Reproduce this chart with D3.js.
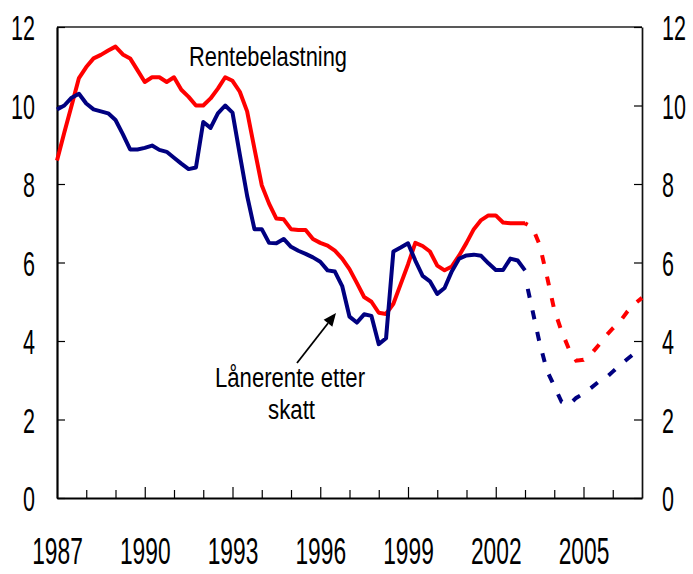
<!DOCTYPE html>
<html>
<head>
<meta charset="utf-8">
<script src="https://cdn.jsdelivr.net/npm/d3@7"></script>
<style>
  body { margin: 0; background: #fff; }
  svg { display: block; }
  text { font-family: "Liberation Sans", Arial, sans-serif; fill: #000; }
</style>
</head>
<body>
<svg id="chart" width="693" height="574"></svg>
<script>
// quarterly data, first point 1987 Q1
const startYear = 1987;

// Rentebelastning (solid, to 2003 Q1)
const renteActual = [
  8.6, 9.31, 10.0, 10.7, 10.98, 11.2, 11.29, 11.4, 11.5, 11.3, 11.2, 10.9,
  10.6, 10.72, 10.72, 10.6, 10.72, 10.4, 10.22, 10.0, 10.0, 10.18, 10.43, 10.72,
  10.63, 10.35, 9.85, 8.9, 7.97, 7.5, 7.12, 7.1, 6.85, 6.83, 6.83, 6.6,
  6.5, 6.43, 6.3, 6.1, 5.83, 5.48, 5.12, 5.0, 4.72, 4.69, 4.95, 5.45,
  5.95, 6.5, 6.42, 6.28, 5.92, 5.8, 5.9, 6.18, 6.5, 6.85, 7.08, 7.2,
  7.2, 7.02, 7.0, 7.0, 7.0
];
// Lånerente etter skatt (solid, to 2003 Q1)
const laanActual = [
  9.9, 10.0, 10.2, 10.3, 10.05, 9.9, 9.85, 9.8, 9.63, 9.27, 8.88, 8.88,
  8.92, 8.98, 8.87, 8.82, 8.67, 8.52, 8.38, 8.42, 9.58, 9.43, 9.8, 10.0,
  9.82, 8.75, 7.7, 6.85, 6.85, 6.5, 6.49, 6.6, 6.4, 6.3, 6.22, 6.13,
  6.02, 5.8, 5.77, 5.4, 4.62, 4.47, 4.68, 4.64, 3.92, 4.07, 6.28, 6.38,
  6.49, 6.05, 5.66, 5.52, 5.2, 5.35, 5.78, 6.1, 6.18, 6.2, 6.17, 5.98,
  5.81, 5.81, 6.1, 6.05, 5.8
];
// projections 2003 Q1 - 2007 Q1 (dashed)
const renteForecast = [
  7.0, 6.9, 6.45, 5.65, 4.8, 4.25, 3.8, 3.5, 3.52, 3.66, 3.88, 4.12,
  4.32, 4.5, 4.75, 4.95, 5.1
];
const laanForecast = [
  5.65, 4.8, 3.95, 3.25, 2.85, 2.45, 2.37, 2.55, 2.66, 2.8, 2.95, 3.05,
  3.22, 3.39, 3.54, 3.69, 3.82
];
const forecastStart = 64; // quarter index of 2003 Q1

const yTicks = [0, 2, 4, 6, 8, 10, 12];
const yearTicks = d3.range(1988, 2007);
const yearLabels = [1987, 1990, 1993, 1996, 1999, 2002, 2005];

const plotLeft = 57, plotRight = 642, plotTop = 27, plotBottom = 498;
const squeeze = 0.615; // axis digits are drawn condensed

const svg = d3.select("#chart");

const x = d3.scaleLinear().domain([1987, 2007]).range([plotLeft, plotRight]);
const y = d3.scaleLinear().domain([0, 12]).range([plotBottom, plotTop]);

const RED = "#ff0000";
const BLUE = "#000080";

// frame top
svg.append("line")
    .attr("x1", plotLeft).attr("x2", plotRight)
    .attr("y1", plotTop).attr("y2", plotTop)
    .attr("stroke", "#222").attr("stroke-width", 1.6);

function styleYLabels(g, pad) {
    g.selectAll("text")
        .attr("font-size", 35)
        .attr("font-family", "Liberation Sans, Arial, sans-serif")
        .attr("dy", "0.36em")
        .attr("x", pad / squeeze)
        .attr("transform", `scale(${squeeze},1)`);
}

// left axis
const gl = svg.append("g")
    .attr("transform", `translate(${plotLeft},0)`)
    .call(d3.axisLeft(y).tickValues(yTicks).tickSize(-8).tickSizeOuter(0).tickPadding(22));
gl.select(".domain").attr("stroke", "#000").attr("stroke-width", 2.2);
gl.selectAll(".tick line").attr("stroke", "#000").attr("stroke-width", 1.2);
styleYLabels(gl, -22);

// right axis
const gr = svg.append("g")
    .attr("transform", `translate(${plotRight},0)`)
    .call(d3.axisRight(y).tickValues(yTicks).tickSize(-8).tickSizeOuter(0).tickPadding(20));
gr.select(".domain").attr("stroke", "#111").attr("stroke-width", 1.7);
gr.selectAll(".tick line").attr("stroke", "#000").attr("stroke-width", 1.2);
styleYLabels(gr, 20);

// bottom axis ticks
const gb = svg.append("g")
    .attr("transform", `translate(0,${plotBottom})`)
    .call(d3.axisBottom(x).tickValues(yearTicks).tickSize(-8).tickSizeOuter(0).tickFormat(""));
gb.select(".domain").attr("stroke", "#000").attr("stroke-width", 2.2);
gb.selectAll(".tick line")
    .attr("stroke", "#000").attr("stroke-width", 1.2)
    .attr("y2", d => (d - 1987) % 3 === 0 ? -11 : -8);

// bottom axis labels
const gbl = svg.append("g")
    .attr("transform", `translate(0,${plotBottom})`)
    .call(d3.axisBottom(x).tickValues(yearLabels).tickSize(0).tickPadding(40).tickFormat(d3.format("d")));
gbl.select(".domain").remove();
gbl.selectAll("text")
    .attr("font-size", 37)
    .attr("font-family", "Liberation Sans, Arial, sans-serif")
    .attr("transform", `scale(${squeeze},1)`);

// lines
const line = (offset) => d3.line()
    .x((d, i) => x(startYear + (i + offset) / 4))
    .y(d => y(d));

svg.append("path")
    .datum(renteActual)
    .attr("d", line(0))
    .attr("fill", "none").attr("stroke", RED).attr("stroke-width", 4)
    .attr("stroke-linejoin", "round");

svg.append("path")
    .datum(laanActual)
    .attr("d", line(0))
    .attr("fill", "none").attr("stroke", BLUE).attr("stroke-width", 4)
    .attr("stroke-linejoin", "round");

svg.append("path")
    .datum(renteForecast)
    .attr("d", line(forecastStart))
    .attr("fill", "none").attr("stroke", RED).attr("stroke-width", 4)
    .attr("stroke-dasharray", "9,13")
    .attr("stroke-dashoffset", 6);

svg.append("path")
    .datum(laanForecast)
    .attr("d", line(forecastStart))
    .attr("fill", "none").attr("stroke", BLUE).attr("stroke-width", 4)
    .attr("stroke-dasharray", "9,13")
    .attr("stroke-dashoffset", 9);

// labels
svg.append("text")
    .attr("x", 189).attr("y", 66)
    .attr("font-size", 28)
    .attr("textLength", 158)
    .attr("lengthAdjust", "spacingAndGlyphs")
    .text("Rentebelastning");

svg.append("text")
    .attr("x", 215).attr("y", 387)
    .attr("font-size", 27)
    .attr("textLength", 150)
    .attr("lengthAdjust", "spacingAndGlyphs")
    .text("Lånerente etter");

svg.append("text")
    .attr("x", 268).attr("y", 419)
    .attr("font-size", 27)
    .attr("textLength", 47)
    .attr("lengthAdjust", "spacingAndGlyphs")
    .text("skatt");

// arrow
const ax1 = 297, ay1 = 363, ax2 = 336, ay2 = 313;
const ang = Math.atan2(ay2 - ay1, ax2 - ax1);
const headLen = 13, headW = 5.5;
const bx = ax2 - headLen * Math.cos(ang), by = ay2 - headLen * Math.sin(ang);
svg.append("line")
    .attr("x1", ax1).attr("y1", ay1).attr("x2", bx).attr("y2", by)
    .attr("stroke", "#000").attr("stroke-width", 1.8);
svg.append("polygon")
    .attr("points", [
        [ax2, ay2],
        [bx + headW * Math.sin(ang), by - headW * Math.cos(ang)],
        [bx - headW * Math.sin(ang), by + headW * Math.cos(ang)]
    ].map(p => p.join(",")).join(" "))
    .attr("fill", "#000");
</script>
</body>
</html>
